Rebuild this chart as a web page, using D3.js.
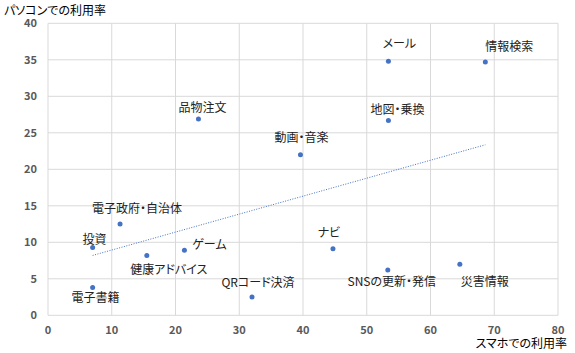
<!DOCTYPE html>
<html>
<head>
<meta charset="utf-8">
<script src="https://cdn.jsdelivr.net/npm/d3@7"></script>
<style>
body { margin: 0; background: #fff; }
text { font-family: "Noto Sans CJK JP", "Noto Sans", sans-serif; font-feature-settings: "palt"; }
</style>
</head>
<body>
<div id="chart"></div>
<script>
var names = ["電子書籍", "投資", "電子政府・自治体", "健康アドバイス", "ゲーム", "QRコード決済", "ナビ",
    "SNSの更新・発信", "災害情報", "メール", "情報検索", "地図・乗換", "動画・音楽", "品物注文"];
var smartphone = [7.0, 7.0, 11.3, 15.5, 21.4, 32.0, 44.7, 53.3, 64.6, 53.4, 68.6, 53.4, 39.6, 23.6];
var pc = [3.8, 9.3, 12.5, 8.2, 8.9, 2.5, 9.1, 6.2, 7.0, 34.8, 34.7, 26.7, 22.0, 26.9];
var xTicks = [0, 10, 20, 30, 40, 50, 60, 70, 80];
var yTicks = [0, 5, 10, 15, 20, 25, 30, 35, 40];

// label offsets from each point (center of text), in px
var labelOffsets = [[3, 10], [2, -8], [17, -16], [22, 14], [25, -6], [6, -15], [-4, -16],
    [4, 11], [25, 17], [11, -18], [24, -15], [9, -11], [1, -17], [4, -11]];

var width = 575, height = 353;
var blue = "#4472c4";

var svg = d3.select("#chart").append("svg")
        .attr("width", width)
        .attr("height", height);

var x = d3.scaleLinear().domain([0, 80]).range([48, 558]);
var y = d3.scaleLinear().domain([0, 40]).range([315.3, 23.3]);

// gridlines
svg.selectAll(".vgrid").data(xTicks).enter().append("line")
        .attr("x1", d => x(d)).attr("x2", d => x(d))
        .attr("y1", y(0)).attr("y2", y(40))
        .attr("stroke", "#d9d9d9").attr("stroke-width", 1);
svg.selectAll(".hgrid").data(yTicks).enter().append("line")
        .attr("x1", x(0)).attr("x2", x(80))
        .attr("y1", d => y(d)).attr("y2", d => y(d))
        .attr("stroke", "#d9d9d9").attr("stroke-width", 1);

// tick labels
svg.selectAll(".xl").data(xTicks).enter().append("text")
        .attr("x", d => x(d))
        .attr("y", 334)
        .attr("text-anchor", "middle")
        .attr("font-size", "11px")
        .attr("font-weight", "bold")
        .attr("fill", "#595959")
        .text(d => d);
svg.selectAll(".yl").data(yTicks).enter().append("text")
        .attr("x", 37)
        .attr("y", d => y(d) + 4)
        .attr("text-anchor", "end")
        .attr("font-size", "11px")
        .attr("font-weight", "bold")
        .attr("fill", "#595959")
        .text(d => d);

// axis titles
svg.append("text")
        .attr("x", 4).attr("y", 15)
        .attr("font-size", "12px")
        .attr("fill", "#000")
        .text("パソコンでの利用率");
svg.append("text")
        .attr("x", 567).attr("y", 348)
        .attr("text-anchor", "end")
        .attr("font-size", "12px")
        .attr("fill", "#000")
        .text("スマホでの利用率");

// linear trendline (least squares)
var n = names.length;
var mx = d3.mean(smartphone), my = d3.mean(pc);
var sxy = 0, sxx = 0;
for (var i = 0; i < n; i++) {
    sxy += (smartphone[i] - mx) * (pc[i] - my);
    sxx += (smartphone[i] - mx) * (smartphone[i] - mx);
}
var slope = sxy / sxx, icpt = my - slope * mx;
var x0 = d3.min(smartphone), x1 = d3.max(smartphone);
svg.append("line")
        .attr("x1", x(x0)).attr("y1", y(icpt + slope * x0))
        .attr("x2", x(x1)).attr("y2", y(icpt + slope * x1))
        .attr("stroke", blue)
        .attr("stroke-width", 1)
        .attr("stroke-dasharray", "1,1.5");

// points
var pts = d3.range(n);
svg.selectAll(".pt").data(pts).enter().append("circle")
        .attr("cx", i => x(smartphone[i]))
        .attr("cy", i => y(pc[i]))
        .attr("r", 2.5)
        .attr("fill", blue);

// labels
svg.selectAll(".lb").data(pts).enter().append("text")
        .attr("x", i => x(smartphone[i]) + labelOffsets[i][0])
        .attr("y", i => y(pc[i]) + labelOffsets[i][1] + 4.5)
        .attr("text-anchor", "middle")
        .attr("font-size", "12px")
        .attr("fill", "#222")
        .text(i => names[i]);
</script>
</body>
</html>
